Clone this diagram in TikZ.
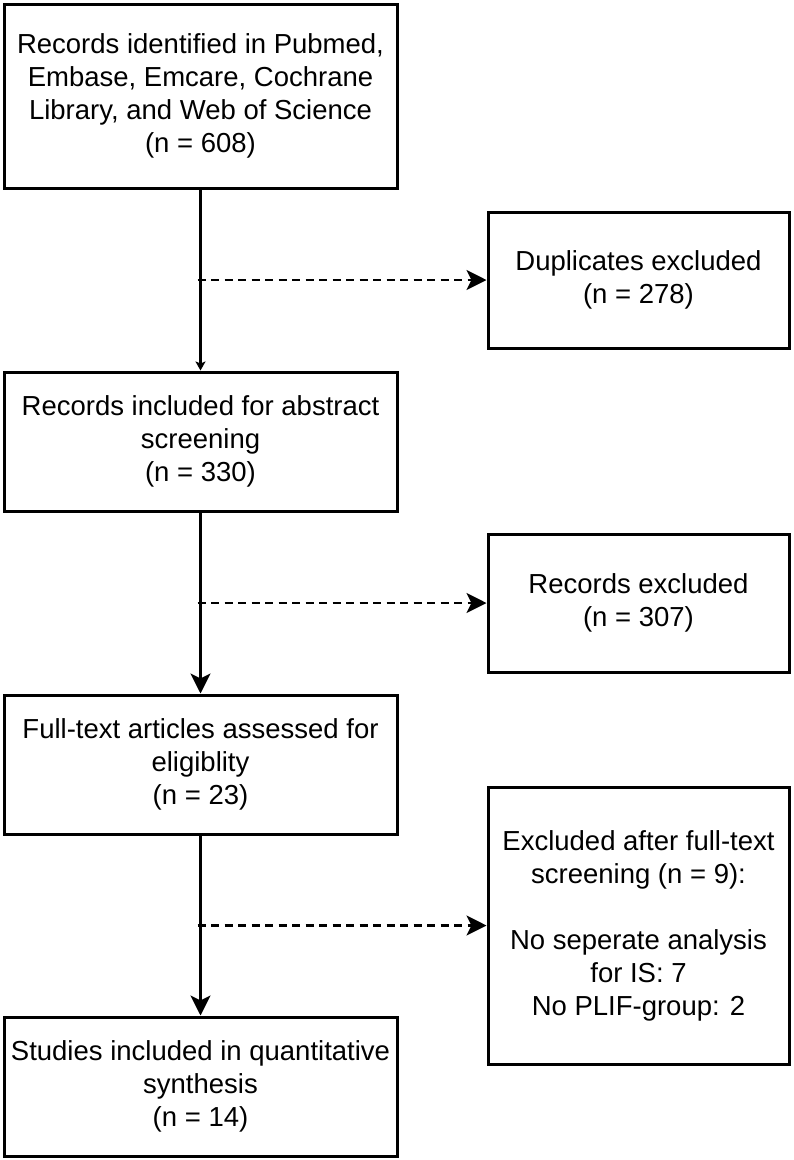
\documentclass[tikz,border=0pt]{standalone}
\usepackage{fontspec}
\setmainfont{Liberation Sans}
\usetikzlibrary{arrows.meta}
\begin{document}
\begin{tikzpicture}[x=1pt,y=-1pt,
  box/.style={draw=black, line width=3pt, fill=white, rectangle, inner sep=0pt, align=center,
    font=\fontsize{27.5}{33}\selectfont, text=black},
  mainbox/.style={box, minimum width=393pt},
  sidebox/.style={box, minimum width=301pt},
  flow/.style={line width=2.8pt, -{Stealth[length=20pt,width=20pt,inset=5pt]}},
  flowsmall/.style={line width=2.8pt, -{Stealth[length=9pt,width=10pt,inset=2pt]}},
  dashflow/.style={line width=2.8pt, dash pattern=on 8pt off 5.5pt, -{Stealth[length=20pt,width=20pt,inset=5pt]}}
]
\useasboundingbox (0,0) rectangle (793,1160);
\fill[white] (0,0) rectangle (793,1160);

\node[mainbox, minimum height=184pt] (b1) at (200.5,96)
  {Records identified in Pubmed,\\Embase, Emcare, Cochrane\\Library, and Web of Science\\(n = 608)};
\node[sidebox, minimum height=136pt] (dup) at (638.5,280)
  {Duplicates excluded\\(n = 278)};
\node[mainbox, minimum height=139pt] (b2) at (200.5,441.5)
  {Records included for abstract\\screening\\(n = 330)};
\node[sidebox, minimum height=138pt] (rex) at (638.5,603)
  {Records excluded\\(n = 307)};
\node[mainbox, minimum height=139pt] (b3) at (200.5,764.5)
  {Full-text articles assessed for\\eligiblity\\(n = 23)};
\node[sidebox, minimum height=277pt] (fex) at (638.5,925.5)
  {Excluded after full-text\\screening (n = 9):\\[33pt]No seperate analysis\\for IS: 7\\No PLIF-group: 2};
\node[mainbox, minimum height=139pt] (b4) at (200.5,1086.5)
  {Studies included in quantitative\\synthesis\\(n = 14)};

\draw[flowsmall] (b1.south) -- (b2.north);
\draw[flow] (b2.south) -- (b3.north);
\draw[flow] (b3.south) -- (b4.north);

\draw[dashflow] ([xshift=-3pt]b1.south |- dup.west) -- (dup.west);
\draw[dashflow] ([xshift=-3pt]b2.south |- rex.west) -- (rex.west);
\draw[dashflow] ([xshift=-3pt]b3.south |- fex.west) -- (fex.west);
\end{tikzpicture}
\end{document}
